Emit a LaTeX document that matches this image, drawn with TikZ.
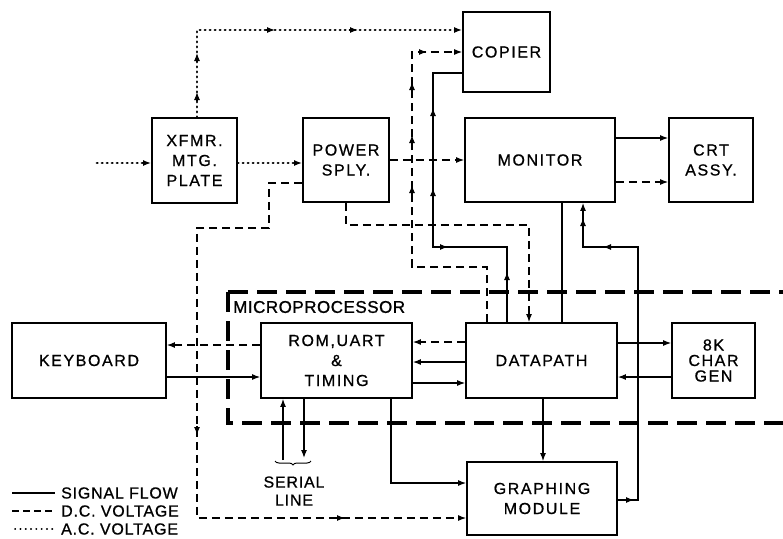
\documentclass[tikz,border=0pt]{standalone}
\usepackage{fontspec}
\setmainfont{Liberation Sans}
\newfontfamily\boxfont[LetterSpace=10,FakeBold=0.8]{Liberation Sans}
\newfontfamily\mpfont[LetterSpace=3,FakeBold=1]{Liberation Sans}
\newfontfamily\legfont[LetterSpace=5,FakeBold=0.8]{Liberation Sans}
\usetikzlibrary{arrows.meta,decorations.pathreplacing}
\begin{document}
\begin{tikzpicture}[x=1pt,y=-1pt,
  box/.style={draw, line width=1.8pt, inner sep=0pt, align=center,
    font=\boxfont\fontsize{16}{20}\selectfont},
  sig/.style={line width=1.2pt},
  dc/.style={line width=1.2pt, dash pattern=on 8pt off 5pt},
  ac/.style={line width=2.8pt, dash pattern=on 0.4pt off 4.6pt, line cap=round},
  mp/.style={line width=3.6pt, dash pattern=on 20pt off 9pt},
  arr/.style={-{Latex[length=8pt,width=6pt]}},
  mid/.style={line width=1.2pt, solid, -{Latex[length=8pt,width=6pt]}},
  lbl/.style={font=\legfont\fontsize{16}{18}\selectfont, inner sep=0pt, align=center}
]
\useasboundingbox (0,0) rectangle (783,538);

% ---------- boxes ----------
\node[box, minimum width=85pt, minimum height=85pt] (xfmr) at (194.5,160.5) {XFMR.\\MTG.\\PLATE};
\node[box, minimum width=86pt, minimum height=84pt] (power) at (346,160) {POWER\\SPLY.};
\node[box, minimum width=87pt, minimum height=80pt] (copier) at (506.5,52) {COPIER};
\node[box, minimum width=150pt, minimum height=84pt] (monitor) at (540,160) {MONITOR};
\node[box, minimum width=84pt, minimum height=84pt] (crt) at (711,160) {CRT\\ASSY.};
\node[box, minimum width=154pt, minimum height=75pt] (kbd) at (89,360.5) {KEYBOARD};
\node[box, minimum width=151pt, minimum height=75pt] (rom) at (336.5,360.5) {ROM,UART\\\&\\TIMING};
\node[box, minimum width=151pt, minimum height=75pt] (dp) at (541.5,360.5) {DATAPATH};
\node[box, minimum width=83pt, minimum height=75pt, font=\boxfont\fontsize{16}{15.5}\selectfont] (cg) at (713.5,360.5) {8K\\CHAR\\GEN};
\node[box, minimum width=150pt, minimum height=73pt] (gm) at (542,498.5) {GRAPHING\\MODULE};

% ---------- microprocessor boundary ----------
\draw[mp] (228,292) -- (783,292);
\draw[mp] (228,292) -- (228,423) -- (783,423);
\node[anchor=west, font=\mpfont\fontsize{17}{20}\selectfont, inner sep=0pt] (mpl) at (233,307) {MICROPROCESSOR};

% ---------- A.C. voltage ----------
\coordinate (acin) at (97,163);
\draw[ac, arr] (acin) -- (xfmr.west |- acin);
\draw[ac, arr] (xfmr.east |- acin) -- (power.west |- acin);
\coordinate (ac1) at (197,30);
\draw[ac, arr] ([xshift=2.5pt]xfmr.north) -- (ac1) -- (copier.west |- ac1);
\draw[mid] (197,101) -- (197,92);
\draw[mid] (197,62) -- (197,53);
\draw[mid] (266,30) -- (275,30);
\draw[mid] (349,30) -- (358,30);

% ---------- D.C. voltage ----------
\draw[dc, arr] (power.east) -- (monitor.west);
\draw[dc, arr] (power.west |- 0,183) -- (269,183) -- (269,228) -- (197,228) -- (197,518) -- (gm.west |- 0,518);
\draw[mid] (197,426) -- (197,435);
\draw[mid] (336,518) -- (345,518);
\draw[dc, arr] (power.south) -- (346,225) -- (529,225) -- (dp.north -| 529,0);
\draw[dc, arr] (dp.north -| 487,0) -- (487,267) -- (412,267) -- (412,52) -- (copier.west |- 0,52);
\draw[mid] (412,194) -- (412,185);
\draw[mid] (412,144) -- (412,135);
\draw[mid] (412,91) -- (412,82);
\draw[mid] (418,52) -- (427,52);
\draw[dc, arr] (monitor.east |- 0,182) -- (crt.west |- 0,182);
\draw[dc, arr] (rom.west |- 0,345) -- (kbd.east |- 0,345);
\draw[dc, arr] (dp.west |- 0,342) -- (rom.east |- 0,342);

% ---------- signal flow ----------
\draw[sig, arr] (monitor.east |- 0,138) -- (crt.west |- 0,138);
\draw[sig, arr] (kbd.east |- 0,377) -- (rom.west |- 0,377);
\draw[sig, arr] (dp.west |- 0,362) -- (rom.east |- 0,362);
\draw[sig, arr] (rom.east |- 0,383) -- (dp.west |- 0,383);
\draw[sig, arr] (dp.east |- 0,343) -- (cg.west |- 0,343);
\draw[sig, arr] (cg.west |- 0,377) -- (dp.east |- 0,377);
\draw[sig, arr] (dp.south -| 543,0) -- (gm.north -| 543,0);
\draw[sig, arr] (rom.south -| 391,0) -- (391,483) -- (gm.west |- 0,483);
\draw[sig] (monitor.south -| 562,0) -- (dp.north -| 562,0);
\draw[sig, arr] (gm.east |- 0,500) -- (638,500) -- (638,247) -- (583,247) -- (monitor.south -| 583,0);
\draw[mid] (625,500) -- (634,500);
\draw[mid] (612,247) -- (603,247);
\draw[mid] (583,227) -- (583,218);
\draw[sig] (dp.north -| 507,0) -- (507,247) -- (433,247) -- (433,73) -- (copier.west |- 0,73);
\draw[mid] (507,281) -- (507,272);
\draw[mid] (439,247) -- (448,247);
\draw[mid] (433,197) -- (433,188);
\draw[mid] (433,117) -- (433,108);

% ---------- serial line ----------
\coordinate (sin) at (283,460);
\coordinate (sout) at (304,458);
\draw[sig, arr] (sin) -- (rom.south -| sin);
\draw[sig, arr] (rom.south -| sout) -- (sout);
\draw[decorate, decoration={brace, mirror, amplitude=4pt}, line width=1pt] (275,461) -- (311,461);
\node[lbl] (serial) at (294,491) {SERIAL\\LINE};

% ---------- legend ----------
\coordinate (l1a) at (12,493); \coordinate (l1b) at (55,493);
\coordinate (l2a) at (12,511); \coordinate (l2b) at (55,511);
\coordinate (l3a) at (15,529); \coordinate (l3b) at (55,529);
\draw[line width=1.2pt] (l1a) -- (l1b);
\draw[line width=1.2pt, dash pattern=on 7pt off 4pt] (l2a) -- (l2b);
\draw[line width=1.8pt, dash pattern=on 0.3pt off 5pt, line cap=round] (l3a) -- (l3b);
\node[lbl, anchor=west] (lg1) at (61,493) {SIGNAL FLOW};
\node[lbl, anchor=west] (lg2) at (61,511) {D.C. VOLTAGE};
\node[lbl, anchor=west] (lg3) at (61,529) {A.C. VOLTAGE};
\end{tikzpicture}
\end{document}
